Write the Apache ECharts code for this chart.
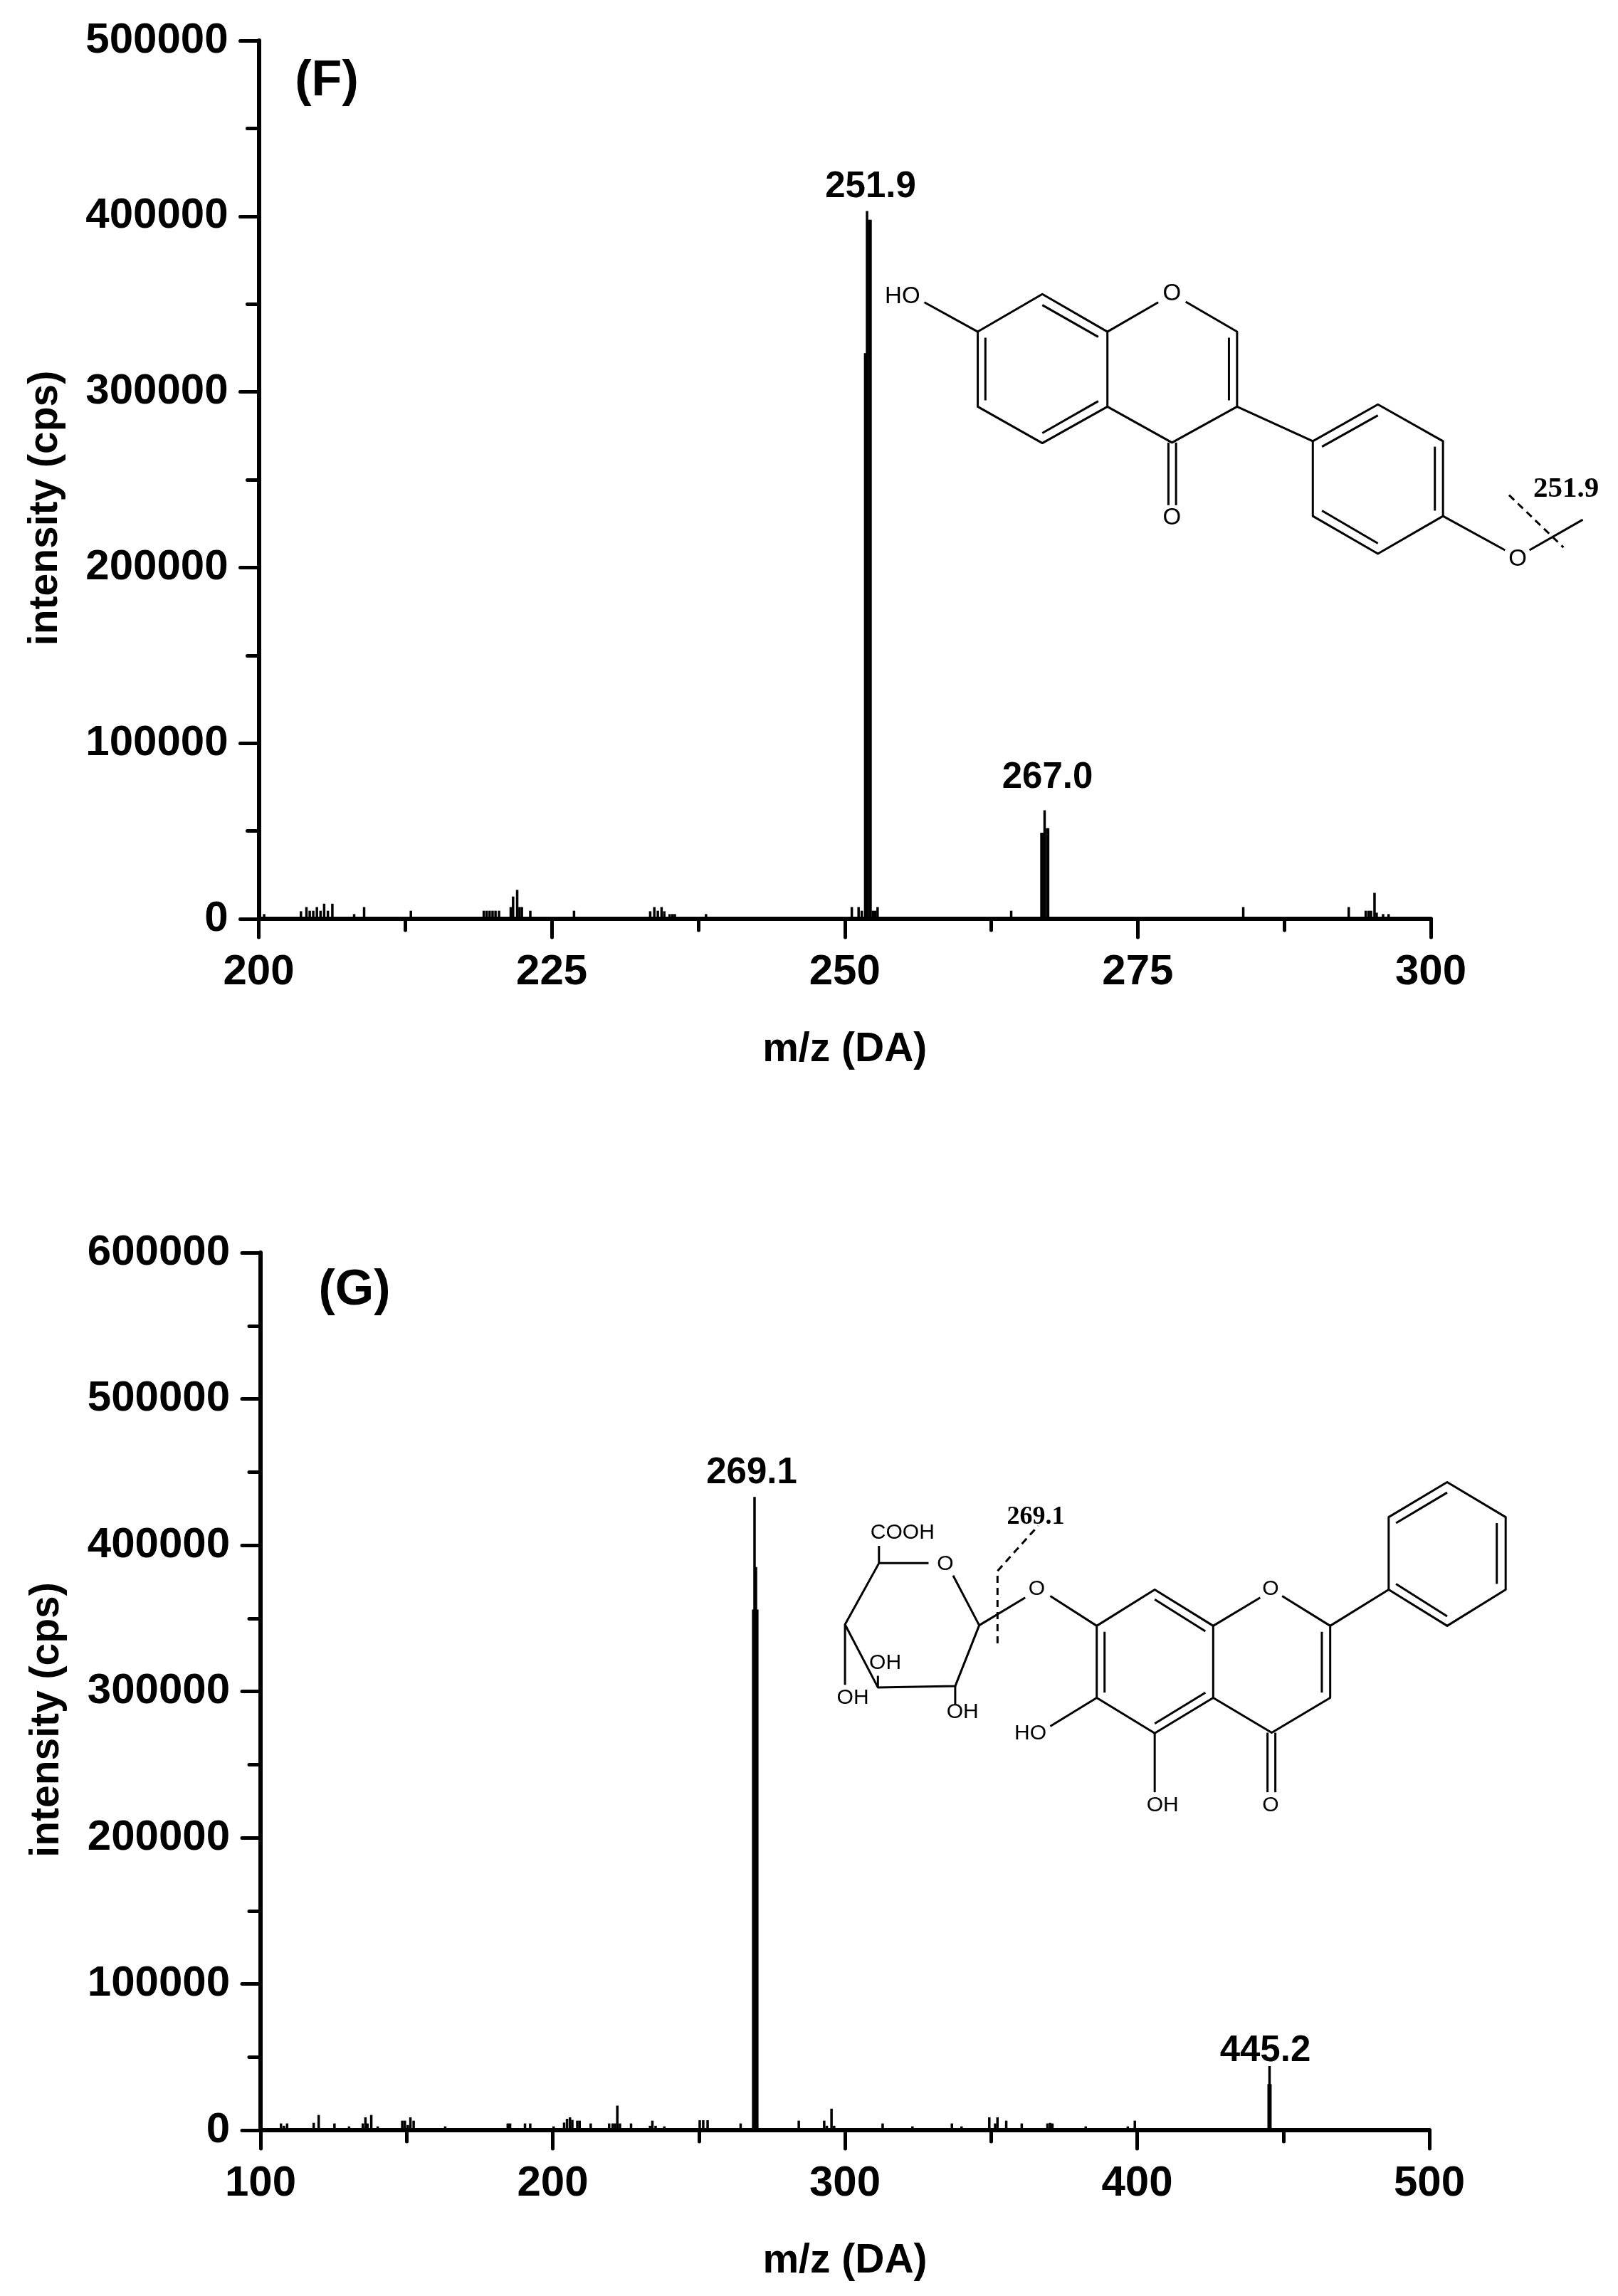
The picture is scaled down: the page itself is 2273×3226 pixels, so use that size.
<!DOCTYPE html>
<html>
<head>
<meta charset="utf-8">
<style>html,body{margin:0;padding:0;background:#fff}#c{width:2273px;height:3226px}</style>
<script src="https://cdn.jsdelivr.net/npm/echarts@6/dist/echarts.min.js"></script>
</head>
<body>
<div id="c"></div>
<script>
// Panel F: [m/z, intensity]
const peaksF = [
 [200.46,2700],[203.6,4300],[204.07,6700],[204.35,4600],[204.65,4600],[204.96,6700],[205.27,4600],[205.58,8600],[205.9,4600],[206.28,8600],
 [208.14,2700],[208.99,6700],[212.98,4600],
 [219.2,4600],[219.45,4600],[219.7,4600],[219.95,4600],[220.2,4600],[220.5,4600],
 [221.5,6700],[221.7,12700],[222.05,16500],[222.25,6700],[222.45,6700],[223.17,4600],[226.9,4600],
 [233.4,4300],[233.75,6700],[234.05,4600],[234.37,6700],[234.6,4300],[235.06,2700],[235.3,2700],[235.5,2700],[238.16,2700],
 [250.6,6700],[251.18,6700],[251.45,4600],[251.74,322000],[251.9,403000],[252.08,398000],[252.2,398000],[252.4,4600],[252.6,4600],[252.8,6700],
 [264.2,4600],
 [266.78,49000],[266.93,49000],[267.05,61800],[267.26,51600],[267.35,51600],
 [284.0,6700],[293.0,6700],[294.45,4600],[294.7,4600],[294.9,4600],[295.2,14800],[295.38,3500],[295.93,2700],[296.4,2700]
];
const labelsF = [[251.9,403000,'251.9'],[267.05,61800,'267.0']];

// Panel G: [m/z, intensity]
const peaksG = [
 [107,4600],[108,3000],[109.1,4600],[118.2,5000],[119.9,10400],[125.3,4600],[130.3,2600],[135,4600],[135.9,8800],[136.6,4600],[137.9,10400],[140.1,2600],
 [148.5,6500],[149.4,6500],[150.4,3500],[151.3,8800],[152.4,6500],[163.2,2600],
 [184.6,4600],[185.4,4600],[190.5,4600],[192.3,4600],[200.3,2600],[203.9,5200],[204.9,7800],[205.9,8800],[206.7,7000],[208.4,6500],[209.2,6500],[213,4600],
 [219.3,4600],[220.5,4600],[221.3,4600],[222.1,16800],[223,4600],[226.8,4600],[233.3,3000],[234.1,6500],[235.2,3000],[238.2,2600],
 [250.3,6800],[251.5,6800],[253,6800],[264.3,4600],
 [268.6,356000],[269.06,433000],[269.55,385000],[270,356000],
 [284.2,6500],[292.9,6500],[293.8,3000],[295.4,14700],[296.3,3000],
 [312.9,4600],[323.1,2600],[336.6,4600],[339.9,2600],[349.4,8800],[351.4,4600],[352.2,8800],[355.2,6500],[360.5,4600],[369.3,4600],[370.2,5000],[371,4600],[382.4,2600],[396.8,2600],[399.2,6500],
 [445.0,31500],[445.3,43800],[445.6,31500]
];
const labelsG = [[269.06,433000,'269.1'],[445.3,43800,'445.2']];

const xTicksF = {min:200,max:300,interval:25};
const xTicksG = {min:100,max:500,interval:100};
const yTicksF = {min:0,max:500000,interval:100000};
const yTicksG = {min:0,max:600000,interval:100000};

const SANS = '"Liberation Sans", Arial, sans-serif';
const SERIF = '"Liberation Serif", "Times New Roman", serif';

function xAxis(t, grid){
  return Object.assign({type:'value',gridIndex:grid,position:'bottom',name:'m/z (DA)',nameLocation:'middle',nameGap:156,
    nameTextStyle:{fontFamily:SANS,fontWeight:'bold',fontSize:57,color:'#000'},
    axisLine:{show:true,onZero:false,lineStyle:{color:'#000',width:6}},
    axisTick:{show:true,length:26,lineStyle:{color:'#000',width:5,cap:'round'}},
    minorTick:{show:true,splitNumber:2,length:16,lineStyle:{color:'#000',width:5,cap:'round'}},
    axisLabel:{fontFamily:SANS,fontWeight:'bold',fontSize:60,color:'#000',margin:45,showMinLabel:true,showMaxLabel:true,formatter:v=>String(v)},
    splitLine:{show:false},minorSplitLine:{show:false}},t);
}
function yAxis(t, grid){
  return Object.assign({type:'value',gridIndex:grid,position:'left',name:'intensity (cps)',nameLocation:'middle',nameGap:271,nameRotate:90,
    nameTextStyle:{fontFamily:SANS,fontWeight:'bold',fontSize:57,color:'#000',padding:[0,80,0,0]},
    axisLine:{show:true,onZero:false,lineStyle:{color:'#000',width:6}},
    axisTick:{show:true,length:26,lineStyle:{color:'#000',width:5,cap:'round'}},
    minorTick:{show:true,splitNumber:2,length:16,lineStyle:{color:'#000',width:5,cap:'round'}},
    axisLabel:{fontFamily:SANS,fontWeight:'bold',fontSize:60,color:'#000',margin:43,showMinLabel:true,showMaxLabel:true,formatter:v=>String(v)},
    splitLine:{show:false},minorSplitLine:{show:false}},t);
}
function peakSeries(data, i){
  return {type:'bar',xAxisIndex:i,yAxisIndex:i,data:data,barWidth:3.5,itemStyle:{color:'#000'},silent:true,clip:false};
}
function labelSeries(data, i, offs){
  return {type:'scatter',xAxisIndex:i,yAxisIndex:i,symbolSize:0,silent:true,itemStyle:{opacity:1},
    data:data.map((d,k)=>({value:[d[0],d[1]],name:d[2],label:{offset:offs[k]}})),
    label:{show:true,position:'top',distance:0,opacity:1,formatter:p=>p.name,fontFamily:SANS,fontWeight:'bold',fontSize:51,color:'#000'}};
}

function mapper(ox,oy,sx,sy){return (p)=>[ox+p[0]/sx, oy+p[1]/sy];}
function shapes(segs, map, w){
  return segs.map(s=>({type:'polyline',silent:true,shape:{points:s.map(map)},style:{stroke:'#000',lineWidth:w,fill:null,lineJoin:'round'}}));
}
function dashed(segs, map, w){
  return segs.map(s=>({type:'polyline',silent:true,shape:{points:s.map(map)},style:{stroke:'#000',lineWidth:w,fill:null,lineDash:[10,7]}}));
}
function texts(list, map, font){
  return list.map(t=>{const p=map([t[1],t[2]]);return {type:'text',silent:true,x:p[0],y:p[1],style:{text:t[0],font:font,fill:'#000',align:'center',verticalAlign:'middle',textAlign:'center',textVerticalAlign:'middle'}};});
}
const mapF = mapper(1150,220,1.4,2.613);
const molF = [
 [[313,643],[440,505],[568,643],[568,918],[440,1052],[313,918],[313,643]],
 [[328,665],[328,895]],[[440,545],[550,662]],[[440,1015],[550,898]],
 [[568,643],[668,535]],[[722,533],[823,643],[823,918],[695,1050],[568,918]],[[807,665],[807,895]],
 [[313,643],[208,535]],
 [[688,1050],[688,1280]],[[703,1050],[703,1280]],
 [[823,918],[972,1045]],
 [[972,1045],[1100,910],[1228,1045],[1228,1320],[1100,1458],[972,1320],[972,1045]],
 [[990,1065],[1100,950]],[[1212,1065],[1212,1300]],[[990,1300],[1100,1420]],
 [[1228,1320],[1350,1445]],[[1398,1445],[1503,1333]]
];
const molFDash = [[[1358,1243],[1465,1435]]];
const molFText = [['HO',165,515],['O',695,505],['O',695,1328],['O',1375,1480]];

const mapG = mapper(1000,2020,1.363,2.75);
const molG = [
 [[320,418],[320,485],[255,722],[318,965],[466,960],[512,725],[462,533]],
 [[320,485],[415,485]],
 [[255,722],[255,955]],[[318,965],[318,920]],[[466,960],[466,1030]],
 [[512,725],[600,618]],[[648,612],[737,727]],
 [[737,727],[848,587],[960,727],[960,1005],[848,1142],[737,1005],[737,727]],
 [[752,750],[752,985]],[[848,625],[945,748]],[[848,1105],[945,985]],
 [[960,727],[1050,618]],[[1092,612],[1184,727],[1184,1005],[1072,1140],[960,1005]],[[1168,750],[1168,985]],
 [[1064,1140],[1064,1370]],[[1079,1140],[1079,1370]],
 [[848,1142],[848,1370]],[[737,1005],[648,1115]],
 [[1184,727],[1296,587]],
 [[1296,587],[1296,307],[1408,172],[1520,307],[1520,587],[1408,727],[1296,587]],
 [[1310,330],[1408,212]],[[1503,330],[1503,565]],[[1310,565],[1408,690]]
];
const molGDash = [[[547,795],[547,515],[625,340]]];
const molGText = [['COOH',365,367],['O',447,490],['OH',332,870],['OH',270,1005],['OH',480,1060],['O',622,585],['O',1070,585],['HO',610,1142],['OH',863,1422],['O',1070,1420]];

const panelLetters = [
 {type:'text',silent:true,x:459,y:115,style:{text:'(F)',font:'bold 70px '+SANS,fill:'#000',align:'center',verticalAlign:'middle',textAlign:'center',textVerticalAlign:'middle'}},
 {type:'text',silent:true,x:498,y:1814,style:{text:'(G)',font:'bold 70px '+SANS,fill:'#000',align:'center',verticalAlign:'middle',textAlign:'center',textVerticalAlign:'middle'}}
];

const graphics = [].concat(
  panelLetters,
  shapes(molF,mapF,3), dashed(molFDash,mapF,3), texts(molFText,mapF,'33px '+SANS),
  texts([['251.9',1470,1222]],mapF,'bold 41px '+SERIF),
  shapes(molG,mapG,3), dashed(molGDash,mapG,3), texts(molGText,mapG,'30px '+SANS),
  texts([['269.1',620,307]],mapG,'bold 36px '+SERIF)
);

const chart = echarts.init(document.getElementById('c'),null,{renderer:'canvas',width:2273,height:3226});
chart.setOption({
  animation:false,
  backgroundColor:'#fff',
  grid:[
    {left:363.5,top:57,width:1646.5,height:1234,containLabel:false},
    {left:366,top:1760,width:1642,height:1233,containLabel:false}
  ],
  xAxis:[xAxis(xTicksF,0),xAxis(xTicksG,1)],
  yAxis:[yAxis(yTicksF,0),yAxis(yTicksG,1)],
  series:[
    peakSeries(peaksF,0),peakSeries(peaksG,1),
    labelSeries(labelsF,0,[[5,-8],[4,-20]]),
    labelSeries(labelsG,1,[[-4,-8],[-6,4]])
  ],
  graphic:graphics
});
</script>
</body>
</html>
